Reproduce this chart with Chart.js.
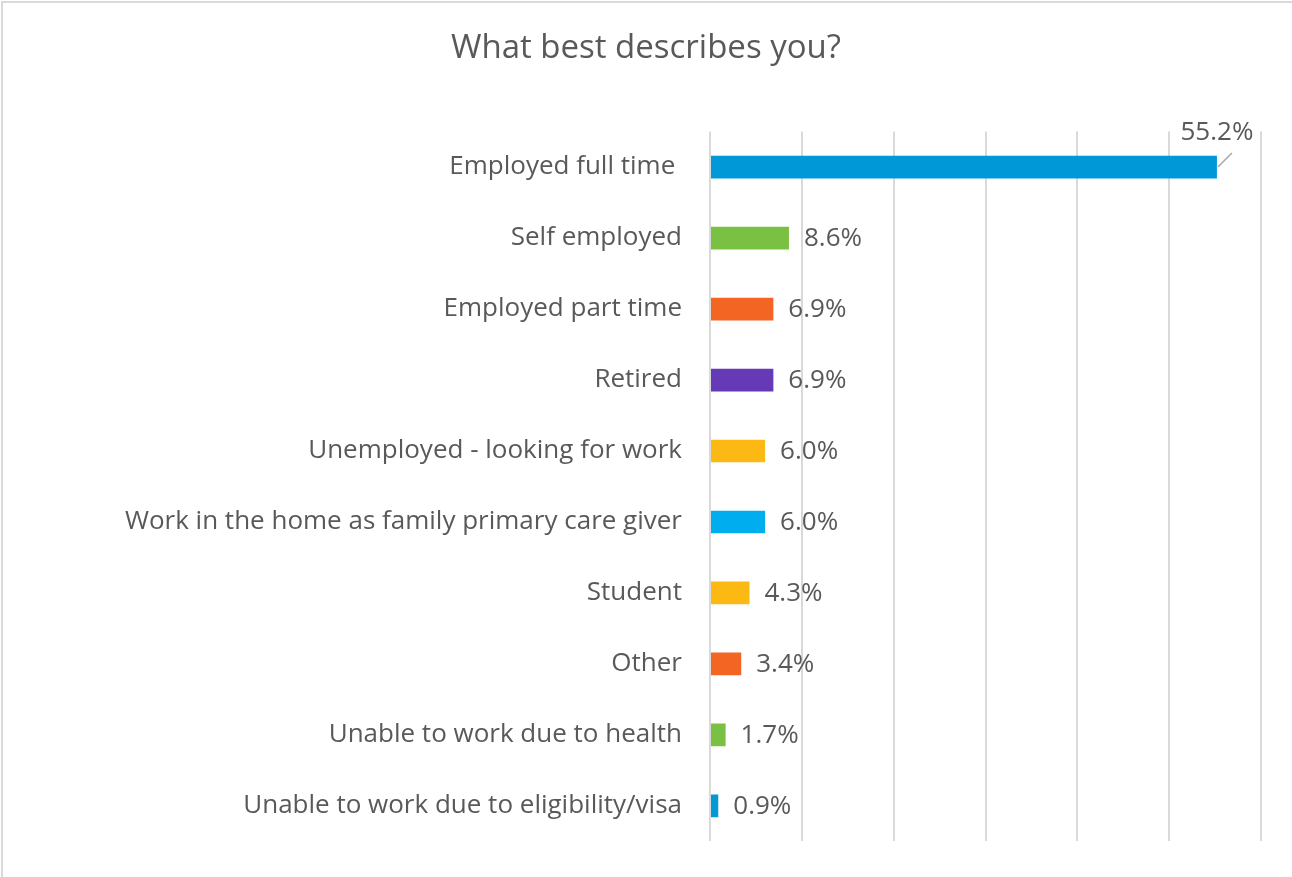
<!DOCTYPE html>
<html>
<head>
<meta charset="utf-8">
<script src="https://cdn.jsdelivr.net/npm/chart.js@4"></script>
<style>
  html, body { margin: 0; padding: 0; background: #fff; }
  #wrap { position: absolute; left: 0; top: 0; width: 1292px; height: 877px; }
</style>
</head>
<body>
<div id="wrap"><canvas id="statusChart" width="1292" height="877"></canvas></div>
<script>
const categories = [
  'Employed full time ',
  'Self employed',
  'Employed part time',
  'Retired',
  'Unemployed - looking for work',
  'Work in the home as family primary care giver',
  'Student',
  'Other',
  'Unable to work due to health',
  'Unable to work due to eligibility/visa'
];
const shares = [55.2, 8.6, 6.9, 6.9, 6.0, 6.0, 4.3, 3.4, 1.7, 0.9];
const barColors = [
  '#0098D7', '#7AC143', '#F26522', '#6639B7', '#FDB913',
  '#00AEEF', '#FDB913', '#F26522', '#7AC143', '#0098D7'
];

const FONT = '"Open Sans", Lato, sans-serif';
const TEXT = '#595959';

// white card with light frame on top / left edges
const frame = {
  id: 'frame',
  beforeDraw(chart) {
    const c = chart.ctx;
    c.save();
    c.fillStyle = '#fff';
    c.fillRect(0, 0, chart.width, chart.height);
    c.strokeStyle = '#d9d9d9';
    c.lineWidth = 2;
    c.beginPath();
    c.moveTo(2, chart.height);
    c.lineTo(2, 2);
    c.lineTo(chart.width, 2);
    c.stroke();
    c.restore();
  }
};

// value labels at the bar ends
const valueLabels = {
  id: 'valueLabels',
  afterDatasetsDraw(chart) {
    const c = chart.ctx;
    const meta = chart.getDatasetMeta(0);
    const area = chart.chartArea;
    c.save();
    c.font = '26px ' + FONT;
    c.fillStyle = TEXT;
    c.textBaseline = 'middle';
    meta.data.forEach((bar, i) => {
      const txt = shares[i].toFixed(1) + '%';
      const w = c.measureText(txt).width;
      let x = bar.x + 15;
      if (x + w > area.right) {
        // no room on the right: lift it above the bar with a leader line
        c.strokeStyle = '#a6a6a6';
        c.lineWidth = 1.5;
        c.beginPath();
        c.moveTo(bar.x + 1, bar.y);
        c.lineTo(bar.x + 15, bar.y - 14);
        c.stroke();
        c.textAlign = 'center';
        c.fillText(txt, bar.x, bar.y - 34);
        c.textAlign = 'left';
      } else {
        c.textAlign = 'left';
        c.fillText(txt, x, bar.y + 1);
      }
    });
    c.restore();
  }
};

new Chart(document.getElementById('statusChart'), {
  type: 'bar',
  data: {
    labels: categories,
    datasets: [{
      data: shares,
      backgroundColor: barColors,
      borderWidth: 0,
      barPercentage: 0.64,
      categoryPercentage: 0.5
    }]
  },
  plugins: [frame, valueLabels],
  options: {
    indexAxis: 'y',
    responsive: false,
    animation: false,
    layout: { padding: { left: 31, right: 31, top: 0, bottom: 32 } },
    plugins: {
      legend: { display: false },
      tooltip: { enabled: false },
      title: {
        display: true,
        text: 'What best describes you?',
        color: TEXT,
        font: { family: FONT, size: 33, weight: 'normal' },
        padding: { top: 29, bottom: 63 }
      }
    },
    scales: {
      x: {
        min: 0,
        max: 60,
        ticks: { display: false, stepSize: 10 },
        grid: { color: '#d9d9d9', lineWidth: 2, drawTicks: false },
        border: { display: false }
      },
      y: {
        afterFit(scale) { scale.width = 679; },
        ticks: {
          color: TEXT,
          padding: 20,
          font: { family: FONT, size: 26 }
        },
        grid: { display: false },
        border: { display: false }
      }
    }
  }
});
</script>
</body>
</html>
